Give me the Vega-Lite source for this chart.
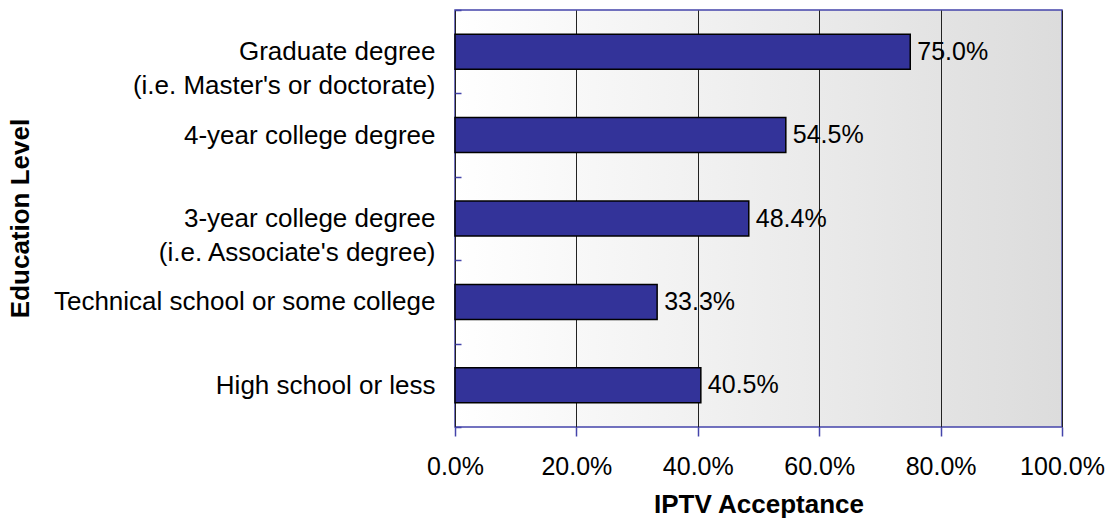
{
  "$schema": "https://vega.github.io/schema/vega-lite/v6.json",
  "autosize": "none",
  "width": 607,
  "height": 417,
  "padding": {"left": 455, "top": 10, "right": 50, "bottom": 92},
  "background": "white",
  "config": {"font": "Liberation Sans"},
  "view": {
    "stroke": "#4444aa",
    "strokeWidth": 1.5,
    "fill": {"gradient": "linear", "x1": 0, "x2": 1, "y1": 0, "y2": 0, "stops": [{"offset": 0, "color": "#ffffff"}, {"offset": 1, "color": "#dcdcdc"}]}
  },
  "data": {
    "values": [
      {"level": "Graduate degree\u00a0\u00a0\u00a0\u00a0\u00a0\u00a0\u00a0|(i.e. Master's or doctorate)", "acceptance": 0.75},
      {"level": "4-year college degree", "acceptance": 0.545},
      {"level": "3-year college degree\u00a0\u00a0\u00a0|(i.e. Associate's degree)", "acceptance": 0.484},
      {"level": "Technical school or some college", "acceptance": 0.333},
      {"level": "High school or less", "acceptance": 0.405}
    ]
  },
  "encoding": {
    "x": {
      "field": "acceptance",
      "type": "quantitative",
      "scale": {"domain": [0, 1]},
      "axis": {
        "title": "IPTV Acceptance",
        "titleFontSize": 26,
        "titleFontWeight": "bold",
        "titleColor": "black",
        "titlePadding": 12,
        "format": ".1%",
        "values": [0, 0.2, 0.4, 0.6, 0.8, 1],
        "labelFontSize": 25,
        "labelColor": "black",
        "labelPadding": 18,
        "labelFlush": false,
        "domain": false,
        "grid": true,
        "gridColor": "#222222",
        "gridWidth": 1,
        "tickSize": 9,
        "tickColor": "#4444aa",
        "tickWidth": 1.5
      }
    },
    "y": {
      "field": "level",
      "type": "nominal",
      "sort": null,
      "scale": {"paddingInner": 0, "paddingOuter": 0},
      "axis": {
        "title": "Education Level",
        "titleFontSize": 26,
        "titleFontWeight": "bold",
        "titleColor": "black",
        "titleX": -422,
        "titleY": 208,
        "titleAngle": -90,
        "titleAlign": "center",
        "titleBaseline": "bottom",
        "labelExpr": "isValid(datum.value) ? split(datum.value, '|') : ''",
        "labelFontSize": 26,
        "labelColor": "black",
        "labelLimit": 0,
        "labelLineHeight": 34,
        "labelPadding": 26,
        "domain": false,
        "grid": false,
        "ticks": true,
        "tickBand": "extent",
        "tickSize": -6,
        "tickColor": "#4444aa",
        "tickWidth": 1.5
      }
    }
  },
  "layer": [
    {"mark": {"type": "bar", "color": "#333399", "stroke": "black", "strokeWidth": 1.5, "height": {"band": 0.42}}},
    {
      "mark": {"type": "text", "align": "left", "baseline": "middle", "dx": 7, "fontSize": 25, "color": "black"},
      "encoding": {"text": {"field": "acceptance", "type": "quantitative", "format": ".1%"}}
    }
  ]
}
